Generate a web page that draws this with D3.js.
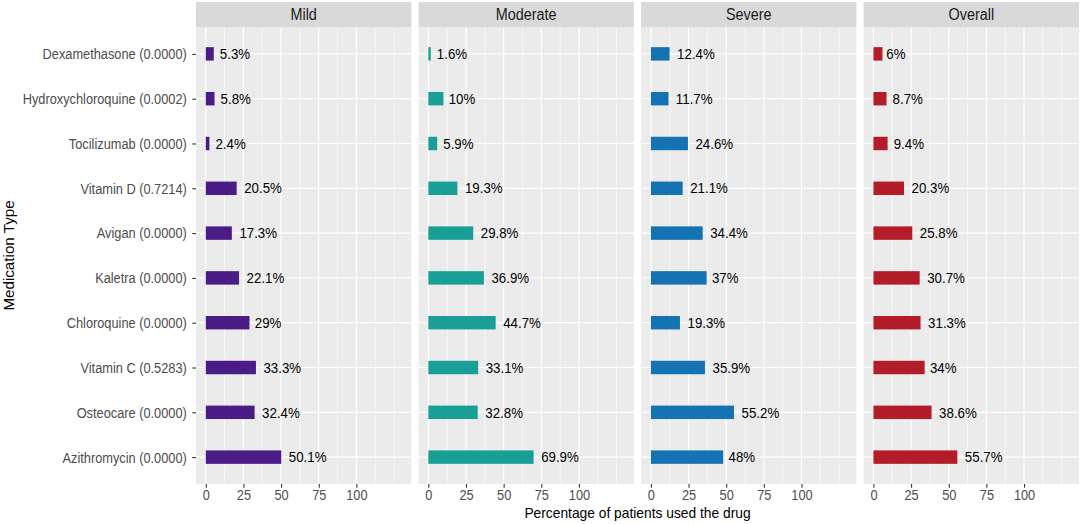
<!DOCTYPE html>
<html>
<head>
<meta charset="utf-8">
<script src="https://cdn.jsdelivr.net/npm/d3@7"></script>
<style>
  html, body { margin: 0; padding: 0; background: #fff; }
  svg { display: block; font-family: "Liberation Sans", Arial, sans-serif; }
</style>
</head>
<body>
<svg id="chart" width="1084" height="524"></svg>
<script>
const categories = [
  "Dexamethasone (0.0000)",
  "Hydroxychloroquine (0.0002)",
  "Tocilizumab (0.0000)",
  "Vitamin D (0.7214)",
  "Avigan (0.0000)",
  "Kaletra (0.0000)",
  "Chloroquine (0.0000)",
  "Vitamin C (0.5283)",
  "Osteocare (0.0000)",
  "Azithromycin (0.0000)"
];
const facets = ["Mild", "Moderate", "Severe", "Overall"];
const mildValues     = [5.3, 5.8, 2.4, 20.5, 17.3, 22.1, 29, 33.3, 32.4, 50.1];
const moderateValues = [1.6, 10, 5.9, 19.3, 29.8, 36.9, 44.7, 33.1, 32.8, 69.9];
const severeValues   = [12.4, 11.7, 24.6, 21.1, 34.4, 37, 19.3, 35.9, 55.2, 48];
const overallValues  = [6, 8.7, 9.4, 20.3, 25.8, 30.7, 31.3, 34, 38.6, 55.7];
const xTicks = [0, 25, 50, 75, 100];
const facetColors = ["#4B1C85", "#1A9F97", "#1673B3", "#B21D29"];

const seriesValues = [mildValues, moderateValues, severeValues, overallValues];

const SY = 1.1; // vertical stretch of glyphs seen in the reference

const svg = d3.select("#chart");
const left = 196, right = 1079, gap = 7.2;
const panelW = (right - left - 3 * gap) / 4;
const stripTop = 2, panelTop = 27, panelBottom = 484;

const x = d3.scaleLinear().domain([-6.5, 136.5]).range([0, panelW]);
// ggplot discrete expansion 0.6 units each side
const yc = d3.scalePoint().domain(categories).range([panelTop, panelBottom]).padding(0.6);
const band = (panelBottom - panelTop) / (categories.length - 1 + 1.2);
const barH = band * 0.3;

const minorTicks = d3.range(12.5, 136.5, 12.5).filter(v => xTicks.indexOf(v) < 0);

function stretchedText(parent, tx, ty, txt, size, anchor, fill) {
  return parent.append("text")
    .attr("transform", `translate(${tx},${ty}) scale(1,${SY})`)
    .attr("text-anchor", anchor).attr("font-size", size).attr("fill", fill).text(txt);
}

facets.forEach((f, i) => {
  const px = left + i * (panelW + gap);
  const g = svg.append("g").attr("transform", `translate(${px},0)`);
  // strip
  g.append("rect").attr("x", 0).attr("y", stripTop).attr("width", panelW).attr("height", panelTop - stripTop).attr("fill", "#D9D9D9");
  stretchedText(g, panelW / 2, (stripTop + panelTop) / 2 + 5.6, f, 14.4, "middle", "#1A1A1A");
  // panel bg
  g.append("rect").attr("x", 0).attr("y", panelTop).attr("width", panelW).attr("height", panelBottom - panelTop).attr("fill", "#EBEBEB");
  // minor grid
  g.selectAll(".minor").data(minorTicks).enter().append("line")
    .attr("x1", d => x(d)).attr("x2", d => x(d)).attr("y1", panelTop).attr("y2", panelBottom)
    .attr("stroke", "#fff").attr("stroke-width", 0.6);
  // major grid
  g.selectAll(".major").data(xTicks).enter().append("line")
    .attr("x1", d => x(d)).attr("x2", d => x(d)).attr("y1", panelTop).attr("y2", panelBottom)
    .attr("stroke", "#fff").attr("stroke-width", 1.2);
  g.selectAll(".hmajor").data(categories).enter().append("line")
    .attr("x1", 0).attr("x2", panelW).attr("y1", d => yc(d)).attr("y2", d => yc(d))
    .attr("stroke", "#fff").attr("stroke-width", 1.2);
  // bars
  const vals = seriesValues[i];
  g.selectAll(".bar").data(categories).enter().append("rect")
    .attr("x", x(0)).attr("y", d => yc(d) - barH / 2)
    .attr("width", (d, j) => x(vals[j]) - x(0)).attr("height", barH)
    .attr("fill", facetColors[i]);
  // labels (hjust = -0.2)
  categories.forEach((c, j) => {
    const t = stretchedText(g, x(vals[j]), yc(c) + 5.2, vals[j] + "%", 13.3, "start", "#000");
    const w = t.node().getComputedTextLength();
    t.attr("transform", `translate(${x(vals[j]) + 0.2 * w},${yc(c) + 5.2}) scale(1,${SY})`);
  });
  // x axis
  const xa = g.append("g").attr("transform", `translate(0,${panelBottom})`)
    .call(d3.axisBottom(x).tickValues(xTicks).tickSize(3.7).tickPadding(4).tickFormat(d3.format("d")));
  xa.select(".domain").remove();
  xa.selectAll(".tick line").attr("stroke", "#333").attr("stroke-width", 1.1);
  xa.selectAll(".tick text").attr("font-size", 12.8).attr("fill", "#4D4D4D")
    .attr("font-family", "Liberation Sans, Arial, sans-serif")
    .attr("y", null).attr("dy", null)
    .attr("transform", `translate(0,15.8) scale(1,${SY})`);
});

// y axis
const ya = svg.append("g").attr("transform", `translate(${left},0)`)
  .call(d3.axisLeft(yc).tickSize(3.7).tickPadding(5.5));
ya.select(".domain").remove();
ya.selectAll(".tick line").attr("stroke", "#333").attr("stroke-width", 1.1);
ya.selectAll(".tick text").attr("font-size", 12.8).attr("fill", "#4D4D4D")
  .attr("font-family", "Liberation Sans, Arial, sans-serif")
  .attr("dy", null)
  .attr("transform", `translate(0,4.9) scale(1,${SY})`);

// axis titles
stretchedText(svg, (left + right) / 2, 517.5, "Percentage of patients used the drug", 13.8, "middle", "#000");
svg.append("text").attr("transform", `translate(14,${(panelTop + panelBottom) / 2}) rotate(-90) scale(${SY},1)`)
  .attr("text-anchor", "middle").attr("font-size", 13.8).attr("fill", "#000")
  .text("Medication Type");
</script>
</body>
</html>
